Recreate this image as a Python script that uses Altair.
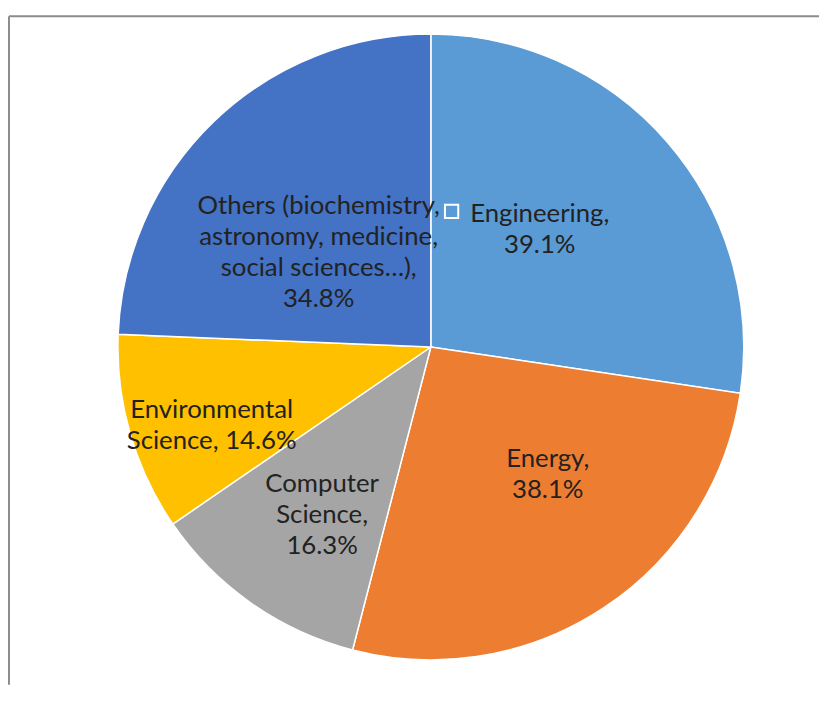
import altair as alt
import pandas as pd

# ---- data ----
categories = [
    "Engineering",
    "Energy",
    "Computer Science",
    "Environmental Science",
    "Others (biochemistry, astronomy, medicine, social sciences…)",
]
values = [39.1, 38.1, 16.3, 14.6, 34.8]
label_texts = [
    "Engineering,\n39.1%",
    "Energy,\n38.1%",
    "Computer\nScience,\n16.3%",
    "Environmental\nScience, 14.6%",
    "Others (biochemistry,\nastronomy, medicine,\nsocial sciences…),\n34.8%",
]
colors = ["#5B9BD5", "#ED7D31", "#A5A5A5", "#FFC000", "#4472C4"]

# ---- layout (label placement tweaks, like Excel's data-label layout) ----
label_radius = [162, 175, 202, 235, 148]
label_nudge_deg = [-6.5, -8.9, -2.1, -3.6, -6.1]

W, H = 819, 680
CX, CY = 427, 339
R = 316
LH = 31.5

df = pd.DataFrame({
    "category": categories,
    "value": values,
    "label": label_texts,
    "order": list(range(len(categories))),
    "label_r": label_radius,
    "nudge": label_nudge_deg,
})

base = alt.Chart(df)

pie = base.mark_arc(
    x=CX, y=CY, outerRadius=R, stroke="white", strokeWidth=1.5
).encode(
    theta=alt.Theta("value:Q", stack=True),
    order=alt.Order("order:Q"),
    color=alt.Color(
        "category:N",
        scale=alt.Scale(domain=categories, range=colors),
        legend=None,
    ),
)

label_base = base.transform_window(
    cum="sum(value)", sort=[alt.SortField("order")], frame=[None, 0]
).transform_joinaggregate(
    total="sum(value)"
).transform_calculate(
    mid="2*PI*(datum.cum - datum.value/2)/datum.total + datum.nudge*PI/180",
    nlines="split(datum.label, '\\n').length",
).transform_calculate(
    lx=f"{CX} + datum.label_r*sin(datum.mid)",
    ly=f"{CY} - datum.label_r*cos(datum.mid)",
).transform_calculate(
    ly_text=f"datum.ly - (datum.nlines - 1)*{LH}/2",
    mx="datum.lx - 89",
    my="datum.ly - 18",
)

labels = label_base.mark_text(
    font="Lato", fontSize=26, lineHeight=LH,
    lineBreak="\n", align="center", baseline="middle", color="#222222",
).encode(
    x=alt.X("lx:Q", scale=None),
    y=alt.Y("ly_text:Q", scale=None),
    text="label:N",
)

# the small leftover legend key drawn by the source chart next to "Engineering,"
marker = label_base.transform_filter(
    alt.datum.order == 0
).mark_square(
    size=180, filled=False, stroke="white", strokeWidth=2, opacity=1,
).encode(
    x=alt.X("mx:Q", scale=None),
    y=alt.Y("my:Q", scale=None),
)

frame_df = pd.DataFrame({"a": [0]})
top_rule = alt.Chart(frame_df).mark_rule(color="#8c8c8c", strokeWidth=2).encode(
    x=alt.value(1), x2=alt.value(W), y=alt.value(5)
)
left_rule = alt.Chart(frame_df).mark_rule(color="#8c8c8c", strokeWidth=2).encode(
    x=alt.value(1), y=alt.value(5), y2=alt.value(H)
)

chart = alt.layer(top_rule, left_rule, pie, labels, marker).properties(
    width=W, height=H, padding=0, autosize=alt.AutoSizeParams(type="none")
).configure_view(stroke=None)

chart.save("out.html", embed_options={"renderer": "svg", "actions": False})
